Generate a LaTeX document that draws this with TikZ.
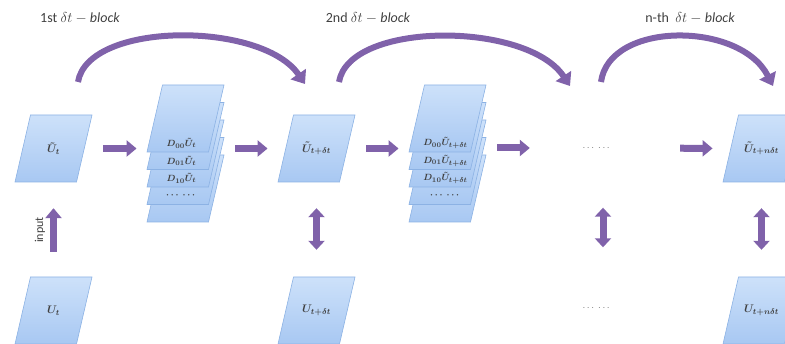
\documentclass[tikz,border=0pt]{standalone}
\usepackage{fontspec}
\setmainfont{Carlito}
\usepackage{amsmath}
\usetikzlibrary{positioning, arrows.meta, calc}

\definecolor{arrowpurple}{RGB}{128,98,170}
\definecolor{sheetedge}{RGB}{140,178,228}
\definecolor{sheettop}{RGB}{205,225,250}
\definecolor{sheetbot}{RGB}{168,200,242}
\definecolor{labelgray}{RGB}{64,64,64}

% slanted sheet behind a named node: name, centre, text
\newcommand{\sheetnode}[3]{%
    \shade[sheetfill] ([shift={(-38.5,33.5)}]#2) -- ([shift={(23,33.5)}]#2) -- ([shift={(38.5,-33.5)}]#2) -- ([shift={(-23,-33.5)}]#2) -- cycle;
    \node[sheetbox] (#1) at (#2) {#3};
}

\begin{document}
\begin{tikzpicture}[
    x=1pt, y=-1pt,
    sheetfill/.style={draw=sheetedge, line width=0.6pt, top color=sheettop, bottom color=sheetbot},
    sheetbox/.style={rectangle, minimum width=61.5pt, minimum height=67pt, inner sep=0pt, font=\fontsize{11}{13}\selectfont\boldmath, text=black!75},
    gap/.style={minimum width=77pt, minimum height=67pt, inner sep=0pt, text=black!55},
    blocklabel/.style={font=\fontsize{14}{16}\selectfont, text=labelgray},
    stacklabel/.style={inner sep=0pt, font=\fontsize{9.5}{11}\selectfont\boldmath, text=black!75},
    harr/.style={arrowpurple, line width=7pt, -{Triangle[length=10pt, width=16pt]}, shorten <=19pt, shorten >=18pt},
    varr/.style={arrowpurple, line width=7pt, {Triangle[length=9pt, width=16pt]}-{Triangle[length=9pt, width=16pt]}, shorten <=26pt, shorten >=27pt},
    hop/.style={arrowpurple, line width=6pt, -{Triangle[length=12pt, width=18pt]}}
]
    \useasboundingbox (0,0) rectangle (785,344);
    \clip (0,0) rectangle (785,344);

    % block titles and hops
    \node[blocklabel] (t1) at (80,18) {1st $\delta t - \mathit{block}$};
    \node[blocklabel] (t2) at (368,18) {2nd $\delta t - \mathit{block}$};
    \node[blocklabel] (t3) at (690,18) {n-th\ \ $\delta t - \mathit{block}$};

    \coordinate (h1s) at (78,82);
    \coordinate (h1e) at (305,84);
    \coordinate (h2s) at (339,82);
    \coordinate (h2e) at (570,86);
    \coordinate (h3s) at (601,82);
    \coordinate (h3e) at (773,86);
    \draw[hop] (h1s) .. controls (88,21) and (262,21) .. (h1e);
    \draw[hop] (h2s) .. controls (349,21) and (527,21) .. (h2e);
    \draw[hop] (h3s) .. controls (609,21) and (740,21) .. (h3e);

    % upper row
    \sheetnode{ut1}{53.5,148.5}{$\tilde{U}_t$}
    \sheetnode{ut2}{316.5,148.5}{$\tilde{U}_{t+\delta t}$}
    \sheetnode{utn}{761.5,148.5}{$\tilde{U}_{t+n\delta t}$}
    \node[gap] (dm) at (597,148) {$\cdots\ \cdots$};

    % operator stacks
    \foreach \k in {5,4,3,2,1} {
        \sheetnode{sa\k}{185.5,{118.5+17.5*(\k-1)}}{}
    }
    \foreach \k/\txt in {1/{$D_{00}\tilde{U}_t$}, 2/{$D_{01}\tilde{U}_t$}, 3/{$D_{10}\tilde{U}_t$}, 4/{$\cdots\ \cdots$}}
        \node[stacklabel] (la\k) at ([shift={(-4,-9)}]sa\k.south) {\txt};

    \foreach \k in {5,4,3,2,1} {
        \sheetnode{sb\k}{447.5,{118.5+17.5*(\k-1)}}{}
    }
    \foreach \k/\txt in {1/{$D_{00}\tilde{U}_{t+\delta t}$}, 2/{$D_{01}\tilde{U}_{t+\delta t}$}, 3/{$D_{10}\tilde{U}_{t+\delta t}$}, 4/{$\cdots\ \cdots$}}
        \node[stacklabel] (lb\k) at ([shift={(-2,-9)}]sb\k.south) {\txt};

    % lower row
    \sheetnode{u1}{53.5,310.5}{$U_t$}
    \sheetnode{u2}{316.5,310.5}{$U_{t+\delta t}$}
    \sheetnode{un}{761.5,310.5}{$U_{t+n\delta t}$}
    \node[gap] (db) at (597,308) {$\cdots\ \cdots$};

    \draw[harr] (ut1.east) -- (ut1.east -| sa1.west);
    \draw[harr] (ut2.west -| sa1.east) -- (ut2.west);
    \draw[harr] (ut2.east) -- (ut2.east -| sb1.west);
    \draw[harr, shorten >=28.5pt] (dm.west -| sb1.east) -- (dm.west);
    \draw[harr, shorten <=44.5pt] (dm.east) -- (utn.west);

    \draw[harr, shorten <=25pt, shorten >=26pt] (u1.north) -- (ut1.south);
    \node[rotate=90, font=\fontsize{12}{14}\selectfont, text=labelgray] (inp) at (40,230) {input};
    \draw[varr] (ut2.south) -- (u2.north);
    \draw[varr] ([xshift=6pt]dm.south) -- ([xshift=6pt]db.north);
    \draw[varr] (utn.south) -- (un.north);
\end{tikzpicture}
\end{document}
